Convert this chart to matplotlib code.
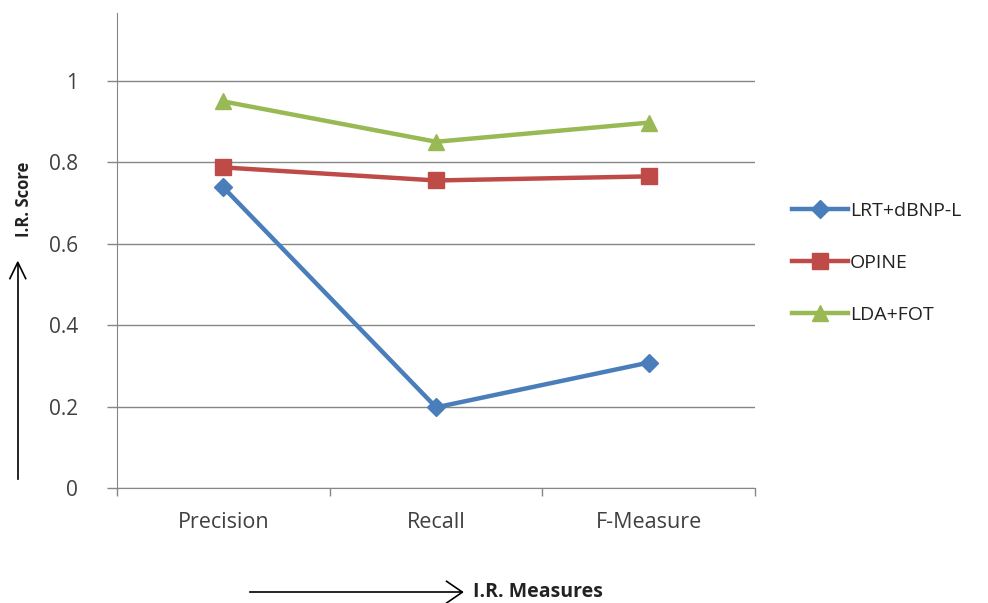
import matplotlib.pyplot as plt
from matplotlib.lines import Line2D

categories = ["Precision", "Recall", "F-Measure"]
lrt_dbnp = [0.738, 0.198, 0.308]
opine = [0.787, 0.755, 0.765]
lda_fot = [0.949, 0.850, 0.897]
y_ticks = [0, 0.2, 0.4, 0.6, 0.8, 1]
y_tick_labels = ["0", "0.2", "0.4", "0.6", "0.8", "1"]

plt.rcParams['font.family'] = ['Open Sans', 'DejaVu Sans']

fig = plt.figure(figsize=(9.88, 6.03), dpi=100)
ax = fig.add_axes([0.1184, 0.1907, 0.646, 0.787])

x = range(len(categories))
ax.plot(x, lrt_dbnp, color="#4A7EBB", lw=3.2, marker="D", ms=9, label="LRT+dBNP-L", zorder=3)
ax.plot(x, opine, color="#BE4B48", lw=3.2, marker="s", ms=11, label="OPINE", zorder=3)
ax.plot(x, lda_fot, color="#98B954", lw=3.2, marker="^", ms=11, label="LDA+FOT", zorder=3)

ax.set_xlim(-0.5, 2.5)
ax.set_ylim(0, 1.165)
ax.set_yticks(y_ticks)
ax.set_yticklabels(y_tick_labels)
ax.set_xticks([-0.5, 0.5, 1.5, 2.5])
ax.set_xticklabels([])
ax.set_xticks(list(x), minor=True)
ax.set_xticklabels(categories, minor=True)
ax.tick_params(axis="x", which="minor", length=0, pad=17, labelsize=15.5, labelcolor="#404040")
ax.tick_params(axis="x", which="major", length=6, color="#868686", width=1)
ax.tick_params(axis="y", length=7, color="#868686", width=1, pad=21, labelsize=15, labelcolor="#404040")

ax.grid(axis="y", color="#868686", lw=1)
ax.set_axisbelow(True)
for side in ["top", "right"]:
    ax.spines[side].set_visible(False)
for side in ["left", "bottom"]:
    ax.spines[side].set_color("#868686")

ax.legend(loc="center left", bbox_to_anchor=(1.03, 0.474), frameon=False, fontsize=14,
          labelspacing=1.75, handlelength=2.9, handletextpad=0.1, labelcolor="#222222")

# axis titles with hand-drawn style arrows
fig.text(0.024, 0.67, "I.R. Score", rotation=90, ha="center", va="center",
         fontsize=12, fontweight="bold", color="#222222")
fig.text(0.479, 0.018, "I.R. Measures", ha="left", va="center",
         fontsize=14, fontweight="bold", color="#222222")
fig.add_artist(Line2D([0.018, 0.018], [0.205, 0.562], color="black", lw=1.2))
fig.add_artist(Line2D([0.010, 0.018, 0.026], [0.538, 0.565, 0.538], color="black", lw=1.2))
fig.add_artist(Line2D([0.253, 0.468], [0.018, 0.018], color="black", lw=1.2))
fig.add_artist(Line2D([0.452, 0.468, 0.452], [0.036, 0.018, 0.0], color="black", lw=1.2))

fig.savefig("out.png", dpi=100)
